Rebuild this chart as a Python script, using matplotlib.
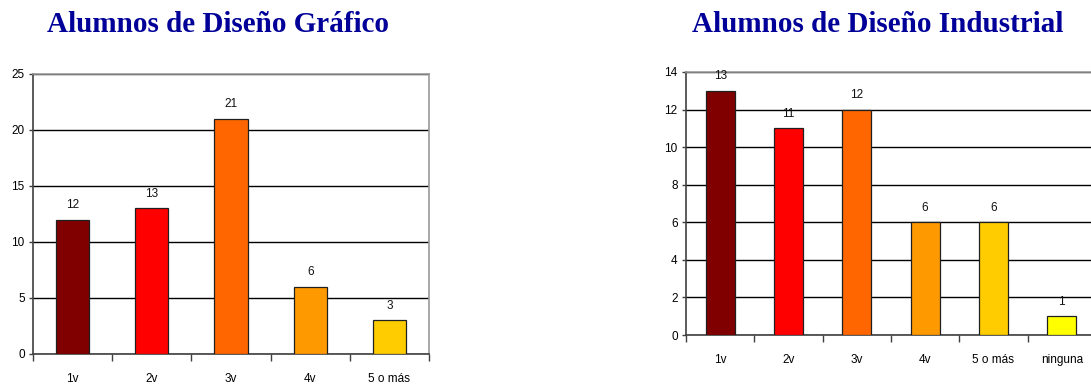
import numpy as np
import matplotlib
matplotlib.use('Agg')
import matplotlib.pyplot as plt

# Datos: número de veces por categoría
cat_grafico = ['1v', '2v', '3v', '4v', '5 o más']
val_grafico = [12, 13, 21, 6, 3]

cat_industrial = ['1v', '2v', '3v', '4v', '5 o más', 'ninguna']
val_industrial = [13, 11, 12, 6, 6, 1]

colores = ['#800000', '#FF0000', '#FF6600', '#FF9900', '#FFCC00', '#FFFF00']

plt.rcParams['font.family'] = ['Liberation Sans', 'DejaVu Sans']

W, H = 1091, 388
fig = plt.figure(figsize=(W / 100, H / 100), dpi=100)


def barras(rect, cats, vals, ymax, ystep, titulo, title_x):
    ax = fig.add_axes([rect[0] / W, rect[1] / H, rect[2] / W, rect[3] / H])
    x = np.arange(len(cats))
    ax.bar(x, vals, width=0.42, color=colores[:len(cats)], edgecolor='#202020',
           linewidth=0.9, zorder=3)
    for xi, v in zip(x, vals):
        ax.annotate(str(v), (xi, v), xytext=(0, 6), textcoords='offset points',
                    ha='center', va='bottom', fontsize=8.5, color='#111111', zorder=4)
    ax.set_xlim(-0.5, len(cats) - 0.5)
    ax.set_ylim(0, ymax)
    ax.set_yticks(np.arange(0, ymax + 1, ystep))
    ax.yaxis.grid(True, color='black', linewidth=1.0, zorder=1)
    ax.set_axisbelow(True)
    # marcas entre categorías, etiquetas centradas
    ax.set_xticks(np.arange(-0.5, len(cats), 1.0))
    ax.set_xticklabels([])
    ax.set_xticks(x, minor=True)
    ax.set_xticklabels(cats, minor=True)
    ax.tick_params(axis='x', which='major', direction='out', length=5, width=1, color='#404040')
    ax.tick_params(axis='x', which='minor', length=0, pad=14, labelsize=8.5)
    ax.tick_params(axis='y', direction='out', length=3, width=1, color='#404040',
                   labelsize=8.5, pad=3)
    for s in ('left', 'bottom'):
        ax.spines[s].set_color('#404040')
        ax.spines[s].set_linewidth(1.2)
    for s in ('top', 'right'):
        ax.spines[s].set_color('#999999')
        ax.spines[s].set_linewidth(1.2)
    fig.text(title_x / W, 1 - 24 / H, titulo, ha='center', va='center',
             fontsize=21, fontweight='bold', color='#000099',
             family=['Liberation Serif', 'DejaVu Serif'])
    return ax


barras((33, 34, 396, 280), cat_grafico, val_grafico, 25, 5,
       'Alumnos de Diseño Gráfico', 218)
barras((686, 53, 410, 263), cat_industrial, val_industrial, 14, 2,
       'Alumnos de Diseño Industrial', 878)

fig.savefig('out.png', dpi=100)
